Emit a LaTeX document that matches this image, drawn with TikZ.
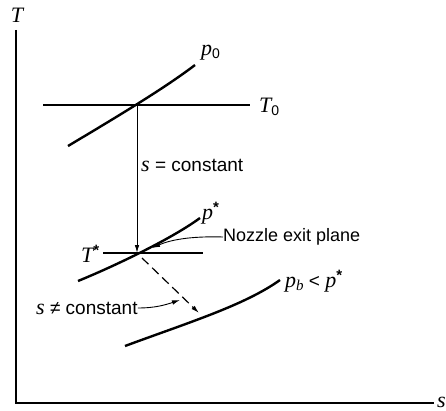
\documentclass[tikz,border=0pt]{standalone}
\usepackage{fontspec}
\setmainfont{Liberation Sans}
\newfontfamily\vfont{Liberation Serif}
\usetikzlibrary{arrows.meta}
\newcommand{\vv}[1]{{\vfont\itshape\fontsize{22}{24}\selectfont #1}}
\newcommand{\vsub}[1]{\raisebox{-3pt}{\fontsize{14}{15}\selectfont #1}}
\newcommand{\vsup}{\raisebox{7pt}{\fontsize{15}{15}\selectfont\bfseries *}}
\begin{document}
\begin{tikzpicture}[x=1pt,y=-1pt,
  lbl/.style={inner sep=0pt,anchor=west,font=\fontsize{19}{21}\selectfont},
  curve/.style={line width=2.4pt},
  tline/.style={line width=2pt},
  axis/.style={line width=1.4pt},
  arr/.style={line width=0.9pt,-{Latex[length=8pt,width=4.5pt]}},
  dasharr/.style={line width=1.2pt,dash pattern=on 9pt off 5pt,-{Latex[length=8pt,width=4.5pt]}}]
\useasboundingbox (0,0) rectangle (446,411);
% axes
\coordinate (ytop) at (16,30);
\coordinate (orig) at (16,403);
\coordinate (xend) at (434,403);
\draw[axis] (ytop) -- (orig) -- (xend);
\node[lbl,anchor=center] (Tax) at (17,15) {\vv{T}};
\node[lbl] (sax) at (437,402) {\vv{s}};
% p0 curve and T0 line
\coordinate (p0a) at (68,146);
\coordinate (p0b) at (195,65);
\coordinate (A) at (137,105);
\draw[curve] (p0a) .. controls (115,118) and (165,88) .. (p0b);
\coordinate (T0a) at (43,105);
\coordinate (T0b) at (250,105);
\draw[tline] (T0a) -- (T0b);
\node[lbl] (p0) at (201,53) {\vv{p}\vsub{0}};
\node[lbl] (T0) at (259,107) {\vv{T}\vsub{0}};
% isentropic arrow
\coordinate (B) at (137,253);
\draw[arr] (A) -- (B);
\node[lbl] (sc) at (141,165) {\vv{s} = constant};
% T* line and p* curve
\coordinate (Tsa) at (103,253);
\coordinate (Tsb) at (203,253);
\draw[tline] (Tsa) -- (Tsb);
\coordinate (psa) at (78,281);
\coordinate (psb) at (200,218);
\draw[curve] (psa) .. controls (110,268) and (170,240) .. (psb);
\node[lbl] (ps) at (202,213) {\vv{p}\vsup};
\node[lbl] (Ts) at (81,254) {\vv{T}\vsup};
% nozzle exit plane
\node[lbl,font=\fontsize{18}{20}\selectfont] (nep) at (223,237) {Nozzle exit plane};
\coordinate (nept) at (152,248);
\draw[arr] (nep.west) .. controls (190,236) and (170,240) .. (nept);
% p_b curve
\coordinate (pba) at (125,346);
\coordinate (pbb) at (280,280);
\draw[curve] (pba) .. controls (190,322) and (245,305) .. (pbb);
\node[lbl] (pb) at (285,281) {\vv{p}\vsub{\vv{\fontsize{15}{15}\selectfont b}} < \vv{p}\vsup};
% non-isentropic
\coordinate (C) at (142,258);
\coordinate (D) at (199,313);
\draw[dasharr] (C) -- (D);
\node[lbl] (snc) at (36,308) {\vv{s} ≠ constant};
\coordinate (snt) at (180,300);
\draw[arr] (snc.east) .. controls (155,308) and (165,305) .. (snt);
\end{tikzpicture}
\end{document}
